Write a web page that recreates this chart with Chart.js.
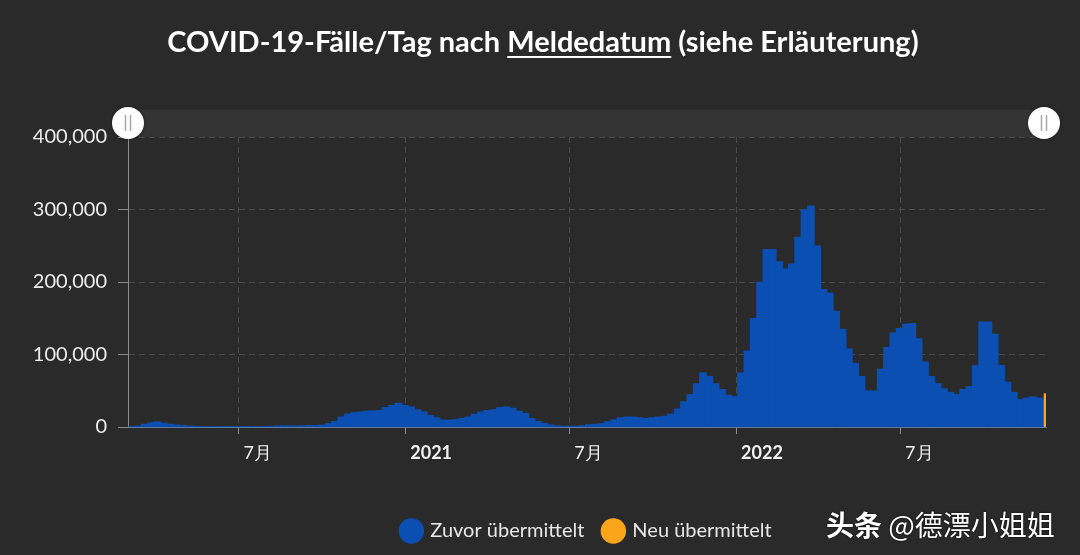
<!DOCTYPE html>
<html>
<head>
<meta charset="utf-8">
<script src="https://cdn.jsdelivr.net/npm/chart.js@4/dist/chart.umd.min.js"></script>
<style>
  body { margin: 0; background: #2a2a2a; }
  #wrap { position: relative; width: 1080px; height: 555px; background: #2a2a2a; }
  #title {
    position: absolute; left: 0; top: 24px; width: 1086px; text-align: center;
    font-family: Lato, "Open Sans", sans-serif; font-weight: 700; font-size: 29px;
    line-height: 34px; color: #fff;
  }
  #title u { text-decoration-thickness: 2px; text-underline-offset: 4px; }
  #mark {
    position: absolute; left: 826px; top: 504px;
    font-family: "Noto Sans CJK SC", sans-serif; font-size: 28px; color: #fff;
    text-shadow: 0 0 2px #000;
  }
  canvas { position: absolute; left: 0; top: 0; }
</style>
</head>
<body>
<div id="wrap">
  <canvas id="chart" width="1080" height="555"></canvas>
  <div id="title">COVID-19-Fälle/Tag nach <u>Meldedatum</u> (siehe Erläuterung)</div>
  <div id="mark"><b>头条</b> @德漂小姐姐</div>
</div>
<script>
// weekly cases (weekday level), each array starts on the given Monday
const start2020 = "2020-03-02";
const cases2020 = [
    300, 1500, 4000, 6000, 7200, 5500, 4000, 3000, 2200, 1500, 1100, 900, 700, 600, 600,
    900, 800, 600, 550, 600, 800, 1000, 1200, 1600, 1900, 1900, 1700, 1900, 2300, 2400,
    2900, 5000, 8000, 14000, 18000, 20000, 21000, 22000, 22500, 23000, 27000, 30000, 33000, 30000,
];
const start2021 = "2021-01-04";
const cases2021 = [
    28000, 24000, 21000, 16000, 13000, 10000, 9500, 10500, 12000, 14000, 18000, 21000, 23000,
    24000, 27000, 28000, 26000, 22000, 19000, 12000, 8000, 5000, 3000, 1800, 1300, 1200,
    1400, 2000, 3500, 4000, 5000, 7500, 10000, 13000, 14000, 14000, 13000, 12000, 13000,
    14000, 15000, 18000, 25000, 35000, 45000, 60000, 75000, 70000, 60000, 52000, 44000, 42000,
];
const start2022 = "2022-01-03";
const cases2022 = [
    75000, 105000, 150000, 200000, 245000, 245000, 228000, 218000, 225000, 262000, 300000,
    305000, 250000, 190000, 185000, 160000, 135000, 108000, 88000, 70000, 50000, 50000,
    80000, 110000, 130000, 136000, 142000, 143000, 122000, 90000, 70000, 60000, 53000,
    48000, 45000, 52000, 56000, 85000, 145000, 145000, 128000, 85000, 62000, 48000,
    38000, 40000, 42000, 40000, 38000,
];

// newly reported (last day)
const neuDates = ["2022-12-08"];
const neuCases = [46000];

const xMin = "2020-03-01";
const xMax = "2022-12-09";
const tickDates = ["2020-07-01", "2021-01-01", "2021-07-01", "2022-01-01", "2022-07-01"];
const tickLabels = ["7月", "2021", "7月", "2022", "7月"];
const yTicks = [0, 100000, 200000, 300000, 400000];

const dayOf = (s) => (Date.parse(s) - Date.parse(xMin)) / 864e5;

const zuvor = [];
[[start2020, cases2020], [start2021, cases2021], [start2022, cases2022]].forEach(([s, arr]) => {
    const d0 = dayOf(s);
    arr.forEach((v, i) => zuvor.push({ x: d0 + 7 * i + 3.5, y: v }));
});
const neu = neuDates.map((d, i) => ({ x: dayOf(d) + 0.5, y: neuCases[i] }));

// range slider band with the two round handles above the plot
const navigator = {
    id: "navigator",
    beforeDraw(chart) {
        const { ctx, chartArea } = chart;
        ctx.save();
        ctx.fillStyle = "#343434";
        ctx.fillRect(chartArea.left, chartArea.top - 27, chartArea.right - chartArea.left, 27);
        ctx.restore();
    },
    afterDraw(chart) {
        const { ctx, chartArea } = chart;
        const cy = chartArea.top - 14;
        [chartArea.left, chartArea.right - 2].forEach((cx) => {
            ctx.save();
            ctx.shadowColor = "rgba(0,0,0,0.4)";
            ctx.shadowBlur = 3;
            ctx.fillStyle = "#ffffff";
            ctx.beginPath();
            ctx.arc(cx, cy, 16, 0, Math.PI * 2);
            ctx.fill();
            ctx.shadowColor = "transparent";
            ctx.strokeStyle = "#a8a8a8";
            ctx.lineWidth = 1.5;
            ctx.beginPath();
            ctx.moveTo(cx - 2.5, cy - 8);
            ctx.lineTo(cx - 2.5, cy + 8);
            ctx.moveTo(cx + 2.5, cy - 8);
            ctx.lineTo(cx + 2.5, cy + 8);
            ctx.stroke();
            ctx.restore();
        });
    },
};

new Chart(document.getElementById("chart"), {
    type: "bar",
    data: {
        datasets: [
            {
                label: "Zuvor übermittelt",
                data: zuvor,
                backgroundColor: "#0b4fb3",
                barThickness: 7,
                grouped: false,
                order: 1,
            },
            {
                label: "Neu übermittelt",
                data: neu,
                backgroundColor: "#fba51a",
                barThickness: 3,
                grouped: false,
                order: 0,
            },
        ],
    },
    options: {
        responsive: false,
        animation: false,
        layout: {
            padding: { top: 137, right: 34, bottom: 4, left: 0 },
        },
        plugins: {
            legend: {
                position: "bottom",
                fullSize: false,
                labels: {
                    usePointStyle: true,
                    pointStyle: "circle",
                    boxWidth: 18,
                    boxHeight: 18,
                    color: "#e8e8e8",
                    padding: 20,
                    font: { family: "Lato", size: 20 },
                    sort: (a, b) => a.datasetIndex - b.datasetIndex,
                },
            },
            tooltip: { enabled: false },
        },
        scales: {
            x: {
                type: "linear",
                min: dayOf(xMin),
                max: dayOf(xMax),
                offset: false,
                afterBuildTicks: (s) => {
                    s.ticks = tickDates.map((d) => ({ value: dayOf(d) }));
                },
                afterFit: (s) => {
                    s.height = 74;
                },
                ticks: {
                    autoSkip: false,
                    maxRotation: 0,
                    align: "start",
                    labelOffset: 5,
                    padding: 8,
                    color: "#f2f2f2",
                    font: (c) => ({
                        family: "Lato",
                        size: 18,
                        weight: /^\d{4}$/.test(tickLabels[c.index]) ? "bold" : "normal",
                    }),
                    callback: (v, i) => tickLabels[i],
                },
                grid: {
                    offset: false,
                    color: "#4a4a4a",
                    tickColor: "#8c8c8c",
                    tickLength: 7,
                },
                border: {
                    color: "#5b7ca8",
                    dash: [6, 4],
                },
            },
            y: {
                min: 0,
                max: 400000,
                afterBuildTicks: (s) => {
                    s.ticks = yTicks.map((v) => ({ value: v }));
                },
                afterFit: (s) => {
                    s.width = 128;
                },
                ticks: {
                    color: "#ececec",
                    padding: 11,
                    font: { family: "Lato", size: 20 },
                    callback: (v) => v.toLocaleString("en-US"),
                },
                grid: {
                    color: (c) => (c.tick && c.tick.value === 0 ? "transparent" : "#4a4a4a"),
                    tickColor: "#8c8c8c",
                    tickLength: 10,
                },
                border: {
                    color: "#8c8c8c",
                    dash: [6, 4],
                },
            },
        },
    },
    plugins: [navigator],
});
</script>
</body>
</html>
